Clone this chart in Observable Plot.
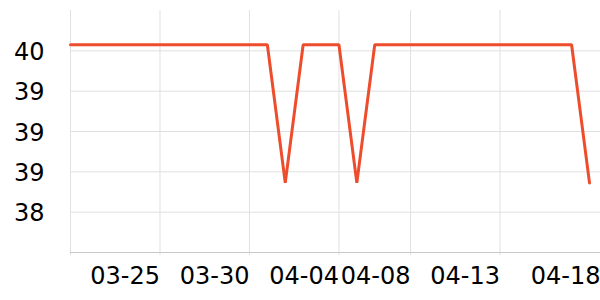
<!DOCTYPE html>
<html><head><meta charset="utf-8">
<script src="https://cdn.jsdelivr.net/npm/d3@7"></script>
<script src="https://cdn.jsdelivr.net/npm/@observablehq/plot@0.6"></script>
<style>body{margin:0;background:#fff} svg{display:block}</style>
</head><body><div id="chart"></div>
<script>
const year = 2024;
const days = ["03-20","03-21","03-22","03-23","03-24","03-25","03-26","03-27","03-28","03-29",
  "03-30","03-31","04-01","04-02","04-03","04-04","04-05","04-06","04-07","04-08",
  "04-09","04-10","04-11","04-12","04-13","04-14","04-15","04-16","04-17","04-18"];
const values = [39.86,39.86,39.86,39.86,39.86,39.86,39.86,39.86,39.86,39.86,
  39.86,39.86,38.49,39.86,39.86,39.86,38.49,39.86,39.86,39.86,
  39.86,39.86,39.86,39.86,39.86,39.86,39.86,39.86,39.86,38.49];
const gridDays = ["03-20","03-25","03-30","04-04","04-08","04-13"];
const labelDays = ["03-25","03-30","04-04","04-08","04-13"];
const lastLabel = ["04-18"];
const yTicks = [38.2, 38.6, 39.0, 39.4, 39.8];
const yDomain = [37.8, 40.2];

const toDate = s => new Date(Date.UTC(year, +s.slice(0, 2) - 1, +s.slice(3)));
const data = days.map((d, i) => ({date: toDate(d), value: values[i]}));

const chart = Plot.plot({
  width: 600, height: 300,
  marginLeft: 70, marginRight: 0, marginTop: 10, marginBottom: 48,
  style: {fontFamily: "DejaVu Sans", background: "#fff"},
  x: {type: "utc", domain: [toDate(days[0]), toDate(days[days.length - 1])], range: [70, 589], axis: null},
  y: {domain: yDomain, axis: null},
  marks: [
    Plot.ruleY(yTicks, {stroke: "#e0e0e0", strokeWidth: 1}),
    Plot.ruleX(gridDays.map(toDate), {stroke: "#e0e0e0", strokeWidth: 1, insetBottom: -3}),
    Plot.ruleY([yDomain[0]], {stroke: "#c8c8c8", strokeWidth: 1}),
    Plot.line(data, {x: "date", y: "value", stroke: "#ee4d2d", strokeWidth: 3, strokeLinejoin: "miter"}),
    Plot.text(labelDays, {x: d => toDate(d), text: d => d, frameAnchor: "bottom", textAnchor: "end",
      lineAnchor: "top", dy: 14, fontSize: 24, fill: "#000"}),
    Plot.text(lastLabel, {x: d => toDate(d), text: d => d, frameAnchor: "bottom", textAnchor: "end",
      lineAnchor: "top", dy: 14, dx: 11, fontSize: 24, fill: "#000"}),
    Plot.text(yTicks, {y: d => d, text: d => String(Math.round(d)), frameAnchor: "left",
      textAnchor: "end", dx: -26, dy: 1.5, fontSize: 24, fill: "#000"})
  ]
});
document.getElementById("chart").append(chart);
</script>
</body></html>
